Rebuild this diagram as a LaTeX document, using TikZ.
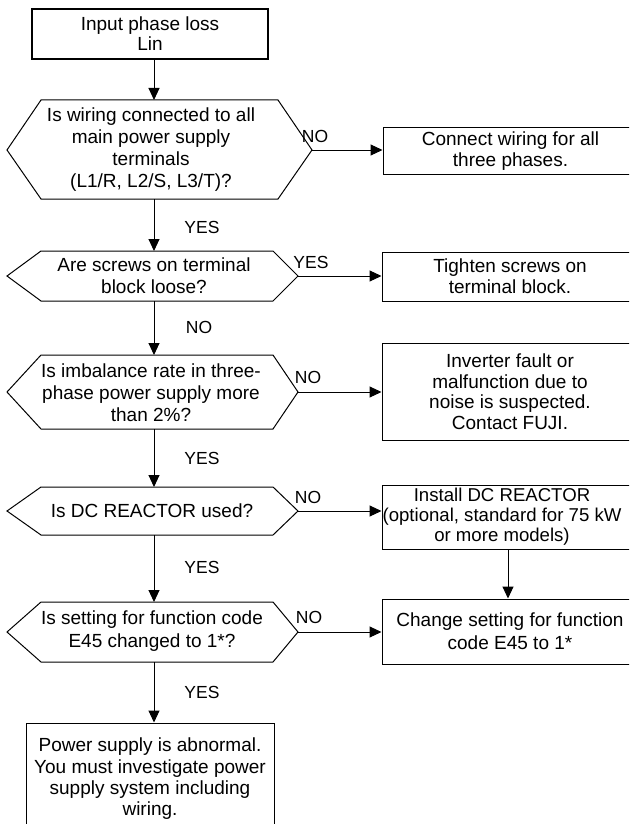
\documentclass[tikz,border=0pt]{standalone}
\usepackage{fontspec}
\setmainfont{Liberation Sans}
\usetikzlibrary{arrows.meta}
\begin{document}
\begin{tikzpicture}[x=1pt,y=-1pt,
  txt/.style={font=\fontsize{19}{22}\selectfont, align=center, inner sep=0pt},
  rbox/.style={draw, line width=1pt, inner sep=0pt, align=center, font=\fontsize{19}{21}\selectfont, minimum width=256pt},
  hex/.style={draw, line width=1pt, line join=miter},
  arr/.style={-{Triangle[length=12pt,width=11pt]}, line width=1pt},
  lbl/.style={font=\fontsize{17.5}{20}\selectfont, inner sep=0pt}]
\useasboundingbox (0,0) rectangle (629,824);
\clip (0,0) rectangle (629,824);
\fill[white] (0,0) rectangle (629,824);

% start box
\node[draw, line width=1.7pt, inner sep=0pt, align=center, font=\fontsize{19}{20}\selectfont,
      minimum width=236pt, minimum height=50pt] (b0) at (150,34) {Input phase loss\\Lin};

% hexagons
\draw[hex] (7,150) -- (41,100) -- (278,100) -- (312,150) -- (278,199) -- (41,199) -- cycle;
\node[txt] (q1) at (151,150) {Is wiring connected to all\\main power supply\\terminals\\(L1/R, L2/S, L3/T)?};
\coordinate (q1n) at (154,100); \coordinate (q1s) at (154,199); \coordinate (q1e) at (312,150);

\draw[hex] (7,276) -- (41,251) -- (273,251) -- (298,276) -- (273,301) -- (41,301) -- cycle;
\node[txt] (q2) at (154,276) {Are screws on terminal\\block loose?};
\coordinate (q2n) at (154,251); \coordinate (q2s) at (154,301); \coordinate (q2e) at (298,276);

\draw[hex] (7,392) -- (41,355) -- (273,355) -- (298,392) -- (273,429) -- (41,429) -- cycle;
\node[txt] (q3) at (151,393) {Is imbalance rate in three-\\phase power supply more\\than 2\%?};
\coordinate (q3n) at (154,355); \coordinate (q3s) at (154,429); \coordinate (q3e) at (298,392);

\draw[hex] (7,511) -- (41,487) -- (273,487) -- (298,511) -- (273,535) -- (41,535) -- cycle;
\node[txt] (q4) at (152,511) {Is DC REACTOR used?};
\coordinate (q4n) at (154,487); \coordinate (q4s) at (154,535); \coordinate (q4e) at (298,511);

\draw[hex] (7,632) -- (41,602) -- (273,602) -- (298,632) -- (273,662) -- (41,662) -- cycle;
\node[txt, font=\fontsize{19}{23}\selectfont] (q5) at (152,631) {Is setting for function code\\E45 changed to 1*?};
\coordinate (q5n) at (154,602); \coordinate (q5s) at (154,662); \coordinate (q5e) at (298,632);

% right boxes
\node[rbox, minimum width=255pt, minimum height=46pt] (r1) at (510.5,151) {Connect wiring for all\\three phases.};
\node[rbox, minimum height=49pt] (r2) at (510,276.5) {Tighten screws on\\terminal block.};
\node[rbox, font=\fontsize{19}{20.5}\selectfont, minimum height=97pt] (r3) at (510,391.5) {Inverter fault or\\malfunction due to\\noise is suspected.\\Contact FUJI.};
\node[rbox, minimum height=64pt] (r4) at (510,517) {};
\node[txt, font=\fontsize{18.6}{20}\selectfont] (r4t) at (502,517) {Install DC REACTOR\\(optional, standard for 75 kW\\or more models)};
\node[rbox, font=\fontsize{19}{23}\selectfont, minimum height=65pt] (r5) at (510,631.5) {Change setting for function\\code E45 to 1*};

% final box
\node[draw, line width=1pt, inner sep=0pt, align=center, font=\fontsize{19}{21.3}\selectfont,
      minimum width=248pt, minimum height=112pt] (f) at (150,779) {Power supply is abnormal.\\You must investigate power\\supply system including\\wiring.};

% connectors
\draw[arr] (b0.south -| q1n) -- (q1n);
\draw[arr] (q1s) -- (q2n);
\draw[arr] (q2s) -- (q3n);
\draw[arr] (q3s) -- (q4n);
\draw[arr] (q4s) -- (q5n);
\draw[arr] (q5s) -- (f.north -| q5s);
\draw[arr] (q1e) -- (q1e -| r1.west);
\draw[arr] (q2e) -- (q2e -| r2.west);
\draw[arr] (q3e) -- (q3e -| r3.west);
\draw[arr] (q4e) -- (q4e -| r4.west);
\draw[arr] (q5e) -- (q5e -| r5.west);
\draw[arr] ([xshift=-2pt]r4.south) -- ([xshift=-2pt]r5.north);

% labels
\node[lbl] (l1) at (202,227) {YES};
\node[lbl] (l2) at (199,327) {NO};
\node[lbl] (l3) at (202,458) {YES};
\node[lbl] (l4) at (202,567) {YES};
\node[lbl] (l5) at (202,692) {YES};
\node[lbl] (m1) at (315,136) {NO};
\node[lbl] (m2) at (311,262) {YES};
\node[lbl] (m3) at (308,377) {NO};
\node[lbl] (m4) at (308,497) {NO};
\node[lbl] (m5) at (309,617) {NO};
\end{tikzpicture}
\end{document}
